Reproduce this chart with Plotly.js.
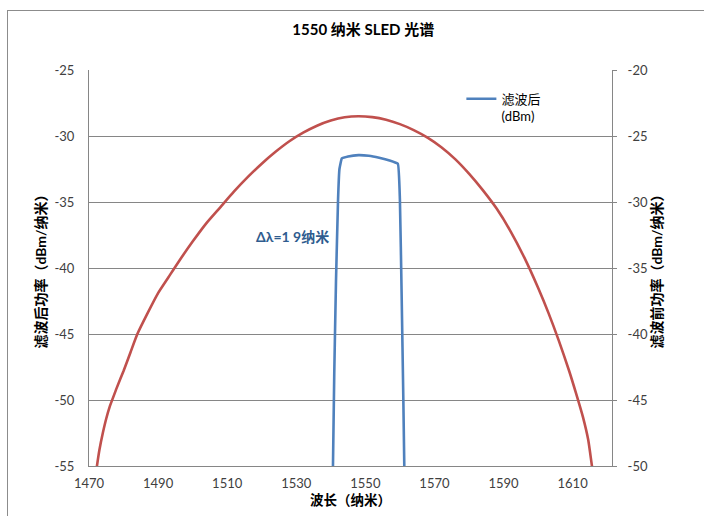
<!DOCTYPE html>
<html>
<head>
<meta charset="utf-8">
<script src="https://cdn.plot.ly/plotly-3.0.1.min.js"></script>
<style>
  html, body { margin: 0; padding: 0; background: #fff; }
  #wrap { position: relative; width: 704px; height: 516px; overflow: hidden; }
  #chart { position: absolute; left: 0; top: 0; width: 704px; height: 516px; }
  #frame { position: absolute; left: 7px; top: 10px; width: 720px; height: 540px;
           border: 1px solid #8c8c8c; pointer-events: none; }
</style>
</head>
<body>
<div id="wrap">
  <div id="chart"></div>
  <div id="frame"></div>
</div>
<script>
// ---- data ----
const chartTitle = '1550 纳米 SLED 光谱';
const xTitle = '波长（纳米）';
const yLeftTitle = '滤波后功率（dBm/纳米）';
const yRightTitle = '滤波前功率（dBm/纳米）';
const legendName = '滤波后<br>(dBm)';
const annotationText = 'Δλ=1 9纳米';

// before filter (right axis), wavelength nm
const redX = [1471.8, 1472.3, 1473, 1474, 1475, 1476, 1477, 1478, 1480, 1482, 1484, 1487, 1490, 1493, 1496,
              1500, 1504, 1508, 1512, 1516, 1520, 1524, 1528, 1532, 1536, 1540, 1544, 1548,
              1552, 1556, 1560, 1564, 1568, 1572, 1576, 1580, 1584, 1588, 1592, 1596, 1600,
              1603, 1606, 1609, 1611, 1613, 1614.5, 1615.6, 1616.2];
const redY = [-51, -50, -48.8, -47.5, -46.4, -45.5, -44.8, -44.1, -42.8, -41.4, -40, -38.4, -36.9, -35.7, -34.5,
              -33, -31.6, -30.4, -29.2, -28.1, -27.1, -26.2, -25.4, -24.75, -24.22, -23.83, -23.58, -23.5,
              -23.57, -23.77, -24.1, -24.55, -25.12, -25.85, -26.75, -27.85, -29.1, -30.5, -32.2, -34.2, -36.5,
              -38.4, -40.5, -42.8, -44.5, -46.3, -48, -50, -51];

// after filter (left axis)
const blueX = [1540.6, 1541.0, 1541.5, 1542.1, 1542.5, 1543.2, 1545, 1548, 1551, 1554, 1557, 1559.4,
               1560.0, 1560.5, 1561.0, 1561.3];
const blueY = [-55.5, -48, -41, -34.8, -32.5, -31.7, -31.55, -31.45, -31.5, -31.65, -31.85, -32.1,
               -34.8, -42, -50, -55.5];

const xTicks = [1470, 1490, 1510, 1530, 1550, 1570, 1590, 1610];
const yLeftTicks = [-55, -50, -45, -40, -35, -30, -25];
const yRightTicks = [-50, -45, -40, -35, -30, -25, -20];

// ---- styles ----
const FONT = 'Lato, "Noto Sans CJK SC", sans-serif';
const RED = '#C0504D';
const BLUE = '#4F81BD';
const GRID = '#868686';

const traces = [
  {
    x: redX, y: redY, type: 'scatter', mode: 'lines', yaxis: 'y2',
    line: { color: RED, width: 2.6, shape: 'spline', smoothing: 0.6 }, showlegend: false, name: '滤波前'
  },
  {
    x: blueX, y: blueY, type: 'scatter', mode: 'lines', yaxis: 'y',
    line: { color: BLUE, width: 2.6, shape: 'spline', smoothing: 0.3 }, name: legendName
  }
];

const layout = {
  width: 704, height: 516,
  margin: { l: 89, r: 92, t: 70, b: 50, pad: 0 },
  paper_bgcolor: '#fff', plot_bgcolor: '#fff',
  font: { family: FONT, size: 13, color: '#404040' },
  title: {
    text: '<b>' + chartTitle + '</b>',
    font: { family: FONT, size: 15, color: '#000' },
    xref: 'container', x: 0.516, xanchor: 'center',
    yref: 'container', y: 0.942, yanchor: 'middle'
  },
  xaxis: {
    range: [1470, 1621.4], tickvals: xTicks, ticktext: xTicks.map(String),
    showgrid: false, zeroline: false, showline: true, linecolor: GRID, linewidth: 1,
    ticks: '', ticklabelstandoff: 5,
    tickfont: { family: FONT, size: 13, color: '#404040' },
    title: { text: '<b>' + xTitle + '</b>', font: { family: FONT, size: 13.5, color: '#000' }, standoff: 5 }
  },
  yaxis: {
    range: [-55, -25], tickvals: yLeftTicks, ticktext: yLeftTicks.map(String),
    showgrid: true, gridcolor: GRID, gridwidth: 1, zeroline: false,
    showline: true, linecolor: GRID, linewidth: 1, ticks: '', ticklabelstandoff: 11,
    tickfont: { family: FONT, size: 13, color: '#404040' },
    title: { text: '<b>' + yLeftTitle + '</b>', font: { family: FONT, size: 14, color: '#000' }, standoff: 4 }
  },
  yaxis2: {
    range: [-50, -20], tickvals: yRightTicks, ticktext: yRightTicks.map(String),
    overlaying: 'y', side: 'right', showgrid: false, zeroline: false,
    showline: true, linecolor: GRID, linewidth: 1, ticks: 'outside', ticklen: 4, tickcolor: GRID,
    ticklabelstandoff: 8,
    tickfont: { family: FONT, size: 13, color: '#404040' },
    title: { text: '<b>' + yRightTitle + '</b>', font: { family: FONT, size: 14, color: '#000' }, standoff: 5 }
  },
  showlegend: true,
  legend: {
    x: 0.712, y: 0.965, xanchor: 'left', yanchor: 'top',
    bgcolor: 'rgba(0,0,0,0)', borderwidth: 0, valign: 'top',
    font: { family: FONT, size: 13, color: '#000' },
    itemwidth: 30, tracegroupgap: 0
  },
  annotations: [
    {
      x: 1529, y: -37.65, xref: 'x', yref: 'y', text: '<b>' + annotationText + '</b>',
      showarrow: false, font: { family: FONT, size: 14, color: '#2F5C8F' }
    }
  ]
};

Plotly.newPlot('chart', traces, layout, { displayModeBar: false, staticPlot: true });
</script>
</body>
</html>
